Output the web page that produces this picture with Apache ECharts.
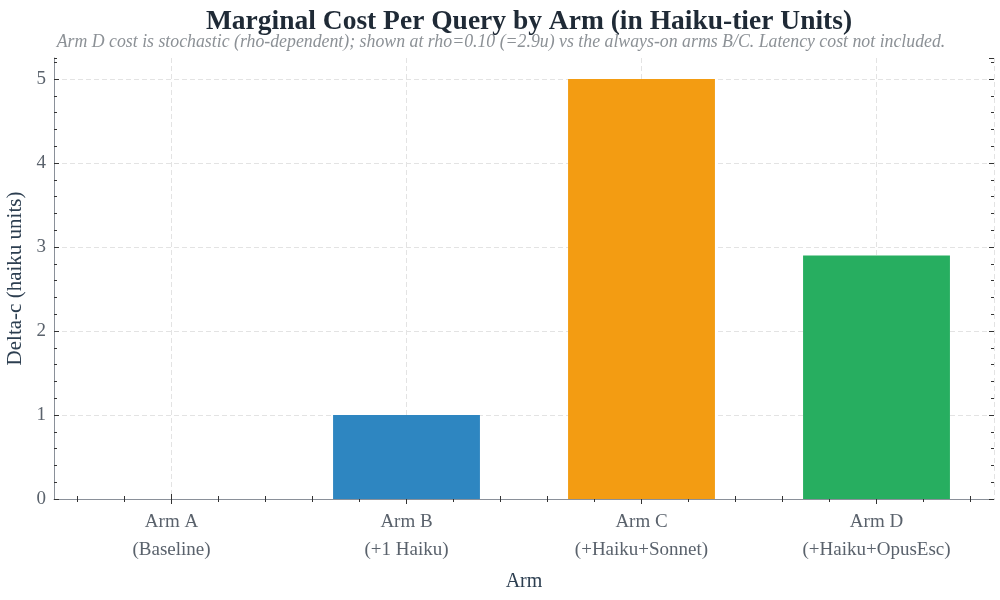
<!DOCTYPE html>
<html>
<head>
<meta charset="utf-8">
<script src="https://cdn.jsdelivr.net/npm/echarts@6/dist/echarts.min.js"></script>
<style>
  html, body { margin: 0; padding: 0; background: #fff; }
  .chart { width: 1000px; height: 600px; }
</style>
</head>
<body>
<div class="chart"></div>
<script>
// data
var arms = ['Arm A\n(Baseline)', 'Arm B\n(+1 Haiku)', 'Arm C\n(+Haiku+Sonnet)', 'Arm D\n(+Haiku+OpusEsc)'];
var deltaCost = [0, 1, 5, 2.9];
var barColors = ['#95a5a6', '#2e86c1', '#f39c12', '#27ae60'];
var yMax = 5.25;

// 20 slots of 0.2 arm width, used only for the minor ticks along x
var minorSlots = [];
for (var i = 0; i < arms.length * 5; i++) minorSlots.push(String(i));
// 8 half slots, used only for the vertical grid lines through the bar centres
var halfSlots = [];
for (var i = 0; i < arms.length * 2; i++) halfSlots.push(String(i));

var serif = 'Liberation Serif';
var spineColor = '#8a9099';
var tickColor = '#333';
var gridColor = '#e3e3e3';
var labelColor = '#5a626c';

function minorX(pos) {
    return {
        type: 'category', data: minorSlots, position: pos, gridIndex: 0,
        boundaryGap: true,
        axisLine: { show: false },
        axisLabel: { show: false },
        axisTick: {
            show: true, inside: true, length: 3, alignWithLabel: true,
            interval: function (idx) { return idx % 5 !== 2; },
            lineStyle: { color: tickColor, width: 1 }
        },
        splitLine: { show: false }
    };
}
function majorY(pos, main) {
    return {
        type: 'value', min: 0, max: yMax, interval: 1, position: pos,
        axisLine: { show: main, lineStyle: { color: spineColor, width: 1 } },
        axisTick: { show: true, inside: true, length: 5, lineStyle: { color: tickColor, width: 1 } },
        axisLabel: {
            show: main, margin: 8, color: labelColor, fontFamily: serif, fontSize: 19,
            showMaxLabel: false
        },
        splitLine: main ? {
            show: true, showMinLine: false, showMaxLine: false,
            lineStyle: { color: gridColor, type: [5, 3], width: 1 }
        } : { show: false },
        name: main ? 'Delta-c (haiku units)' : '',
        nameLocation: 'middle', nameGap: 26,
        nameTextStyle: { color: '#2c3e50', fontFamily: serif, fontSize: 21 }
    };
}
function minorY(pos) {
    return {
        type: 'value', min: 0, max: yMax, interval: 0.2, position: pos,
        axisLine: { show: false },
        axisTick: { show: true, inside: true, length: 3, lineStyle: { color: tickColor, width: 1 } },
        axisLabel: { show: false },
        splitLine: { show: false }
    };
}

var myChart = echarts.init(document.querySelector('.chart'));
var option = {
    backgroundColor: '#fff',
    animation: false,
    title: [{
        text: 'Marginal Cost Per Query by Arm (in Haiku-tier Units)',
        left: 524, top: 3, textAlign: 'center',
        textStyle: { fontFamily: serif, fontSize: 27.5, fontWeight: 'bold', color: '#1f2a36' }
    }, {
        text: 'Arm D cost is stochastic (rho-dependent); shown at rho=0.10 (=2.9u) vs the always-on arms B/C. Latency cost not included.',
        left: 496, top: 28, textAlign: 'center',
        textStyle: { fontFamily: serif, fontSize: 17.8, fontStyle: 'italic', fontWeight: 'normal', color: '#8c9196' }
    }],
    grid: { left: 54, right: 6, top: 58, bottom: 101, containLabel: false, outerBoundsMode: 'none' },
    xAxis: [{
        type: 'category', data: arms, position: 'bottom',
        axisLine: { show: true, onZero: false, lineStyle: { color: spineColor, width: 1 } },
        axisTick: { show: true, inside: true, length: 5, alignWithLabel: true, lineStyle: { color: tickColor, width: 1 } },
        axisLabel: { margin: 9, color: labelColor, fontFamily: serif, fontSize: 19, lineHeight: 28 },
        splitLine: { show: false },
        name: 'Arm', nameLocation: 'middle', nameGap: 73,
        nameTextStyle: { color: '#2c3e50', fontFamily: serif, fontSize: 20 }
    }, {
        type: 'category', data: arms, position: 'top',
        axisLine: { show: false },
        axisTick: { show: true, inside: true, length: 5, alignWithLabel: true, lineStyle: { color: tickColor, width: 1 } },
        axisLabel: { show: false },
        splitLine: { show: false }
    }, minorX('bottom'), minorX('top'), {
        type: 'category', data: halfSlots, position: 'bottom',
        boundaryGap: true,
        axisLine: { show: false }, axisTick: { show: false }, axisLabel: { show: false },
        splitLine: {
            show: true,
            interval: function (idx) { return idx % 2 === 1; },
            lineStyle: { color: gridColor, type: [5, 3], width: 1 }
        }
    }],
    yAxis: [majorY('left', true), majorY('right', false), minorY('left'), minorY('right')],
    series: [{
        type: 'bar',
        xAxisIndex: 0, yAxisIndex: 0,
        barWidth: '62.5%',
        z: 3,
        data: deltaCost.map(function (v, i) {
            return { value: v, itemStyle: { color: barColors[i] } };
        })
    }]
};
myChart.setOption(option);
</script>
</body>
</html>
